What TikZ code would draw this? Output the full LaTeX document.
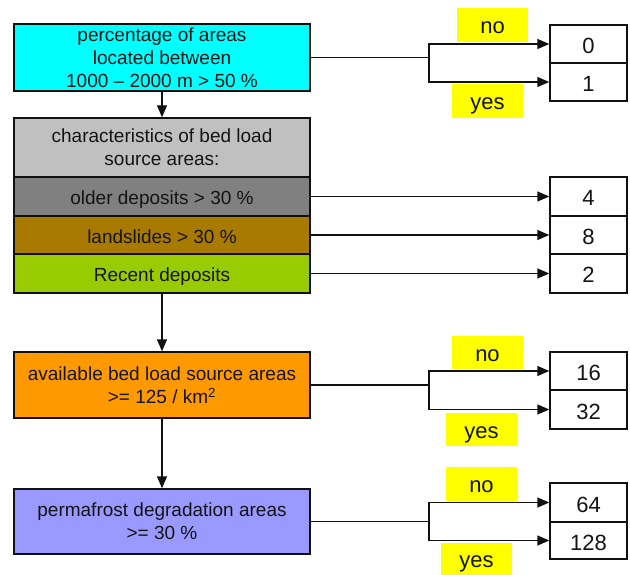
\documentclass[tikz,border=0pt]{standalone}
\usepackage{fontspec}
\setmainfont{Liberation Sans}
\usetikzlibrary{arrows.meta}
\definecolor{cCyan}{HTML}{00FFFF}
\definecolor{cLgray}{HTML}{C0C0C0}
\definecolor{cDgray}{HTML}{808080}
\definecolor{cBrown}{HTML}{A87A00}
\definecolor{cGreen}{HTML}{99CC00}
\definecolor{cOrange}{HTML}{FF9900}
\definecolor{cPurple}{HTML}{9999FF}
\definecolor{cYellow}{HTML}{FFFF00}
\definecolor{cLine}{HTML}{111111}
\tikzset{
  every node/.style={font=\fontsize{19}{23}\selectfont, text=black!92},
  box/.style={draw=cLine, line width=1.4pt, inner sep=0pt, align=center},
  oneline/.style={text height=17pt, text depth=0pt},
  valbox/.style={draw=cLine, line width=1.4pt, inner sep=0pt, minimum width=77pt, fill=white,
    font=\fontsize{22}{26}\selectfont, text height=19pt, text depth=0pt},
  tag/.style={fill=cYellow, inner sep=0pt, minimum width=71pt, minimum height=34pt,
    font=\fontsize{22}{26}\selectfont, text height=17pt, text depth=0pt},
  conn/.style={draw=cLine, line width=1.4pt},
  arr/.style={conn, -{Triangle[length=12pt,width=10pt]}},
}
\begin{document}
\begin{tikzpicture}[x=1pt,y=-1pt]
\useasboundingbox (0,0) rectangle (630,575);
% left column
\node[box, fill=cCyan, minimum width=296pt, minimum height=67pt] (q1) at (162,57.5)
  {percentage of areas\\located between\\1000 -- 2000 m > 50 \%};
\node[box, fill=cLgray, minimum width=296pt, minimum height=59pt] (chars) at (162,147.5)
  {characteristics of bed load\\source areas:};
\node[box, oneline, fill=cDgray, minimum width=296pt, minimum height=39pt] (older) at (162,196.5)
  {older deposits > 30 \%};
\node[box, oneline, fill=cBrown, minimum width=296pt, minimum height=38pt] (lands) at (162,235)
  {landslides > 30 \%};
\node[box, oneline, fill=cGreen, minimum width=296pt, minimum height=39pt] (recent) at (162,273.5)
  {Recent deposits};
\node[box, fill=cOrange, minimum width=296pt, minimum height=66pt] (avail) at (162,385)
  {available bed load source areas\\>= 125 / km\textsuperscript{2}};
\node[box, fill=cPurple, minimum width=296pt, minimum height=65pt] (perma) at (162,521.5)
  {permafrost degradation areas\\>= 30 \%};
% right values
\node[valbox, minimum height=38pt] (v0) at (588.5,44) {0};
\node[valbox, minimum height=38pt] (v1) at (588.5,82) {1};
\node[valbox, minimum height=39pt] (v4) at (588.5,196.5) {4};
\node[valbox, minimum height=38pt] (v8) at (588.5,235) {8};
\node[valbox, minimum height=39pt] (v2) at (588.5,273.5) {2};
\node[valbox, minimum height=38pt] (v16) at (588.5,371) {16};
\node[valbox, minimum height=39pt] (v32) at (588.5,409.5) {32};
\node[valbox, minimum height=39pt] (v64) at (588.5,502.5) {64};
\node[valbox, minimum height=37pt] (v128) at (588.5,540.5) {128};
% yes/no labels
\node[tag] (n1) at (492.5,25) {no};
\node[tag] (y1) at (487.5,101) {yes};
\node[tag, minimum height=33pt] (n2) at (487.5,352.5) {no};
\node[tag, minimum height=33pt] (y2) at (481.5,429.5) {yes};
\node[tag] (n3) at (481.5,484) {no};
\node[tag, minimum height=32pt] (y3) at (476.5,559) {yes};
% branch points
\coordinate (b1) at (429,57.5);
\coordinate (b2) at (429,385);
\coordinate (b3) at (429,521.5);
% vertical flow
\draw[arr] (q1.south) -- (chars.north);
\draw[arr] (recent.south) -- (avail.north);
\draw[arr] (avail.south) -- (perma.north);
% horizontal connectors
\draw[conn] (q1.east) -- (b1);
\draw[arr] (b1) |- (v0.west);
\draw[arr] (b1) |- (v1.west);
\draw[arr] (older.east) -- (v4.west);
\draw[arr] (lands.east) -- (v8.west);
\draw[arr] (recent.east) -- (v2.west);
\draw[conn] (avail.east) -- (b2);
\draw[arr] (b2) |- (v16.west);
\draw[arr] (b2) |- (v32.west);
\draw[conn] (perma.east) -- (b3);
\draw[arr] (b3) |- (v64.west);
\draw[arr] (b3) |- (v128.west);
\end{tikzpicture}
\end{document}
